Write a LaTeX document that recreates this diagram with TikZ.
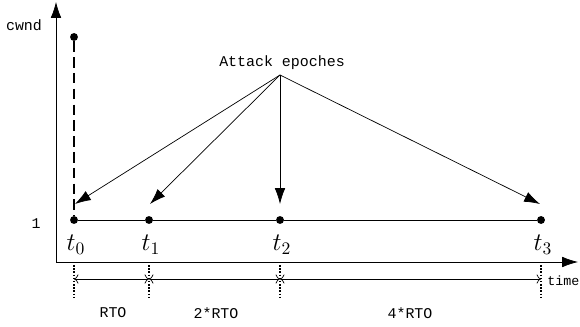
\documentclass[tikz,border=0pt]{standalone}
\usepackage{fontspec}
\setmonofont{Liberation Mono}
\usetikzlibrary{positioning, arrows.meta}

\tikzset{
  dot/.style={circle, fill, inner sep=0pt, minimum size=4.5pt},
  attack/.style={-{Latex[length=9pt,width=6pt]}, thin},
  lbl/.style={font=\ttfamily\fontsize{8.5}{10}\selectfont},
  span/.style={{To}-{To}, thin},
}

\begin{document}
\begin{tikzpicture}[x=0.02cm, y=-0.02cm]
\useasboundingbox (0,0) rectangle (580,327);

% axes
\coordinate (o) at (56,262);
\draw[-{Latex[length=9pt,width=6pt]}] (o) -- (56,2) coordinate (ytop);
\draw[-{Latex[length=9pt,width=6pt]}] (o) -- (578,262) coordinate (xend);
\node[lbl] (cwnd) at (24,25) {cwnd};
\node[lbl] (one) at (36,224) {1};
\node[lbl, font=\ttfamily\fontsize{7.6}{9}\selectfont, anchor=west, inner sep=0pt]
  (time) at (547,281) {time};

% cwnd over time
\node[dot] (top) at (74,37) {};
\node[dot] (p0) at (74,220) {};
\node[dot] (p1) at (149,220) {};
\node[dot] (p2) at (280,220) {};
\node[dot] (p3) at (541,220) {};
\draw[thick, dash pattern=on 6pt off 3pt] (top) -- (p0);
\draw[thin] (p0) -- (p1) -- (p2) -- (p3);
\node (t0) at (76,245) {\Large $t_0$};
\node (t1) at (151,245) {\Large $t_1$};
\node (t2) at (282,245) {\Large $t_2$};
\node (t3) at (543,245) {\Large $t_3$};

% attack epoches
\node[lbl] (atk) at (282,63) {Attack epoches};
\coordinate (src) at (280,75);
\coordinate (e0) at (75,204);
\coordinate (e1) at (150,204);
\coordinate (e2) at (280,204);
\coordinate (e3) at (540,204);
\foreach \e in {e0,e1,e2,e3}
  \draw[attack] (src) -- (\e);

% RTO spans
\foreach \x [count=\i from 0] in {74,149,280,541}{
  \coordinate (b\i) at (\x,262);
  \coordinate (c\i) at (\x,298);
  \draw[densely dotted, thick] (b\i) -- (c\i);
}
\draw[span] (74,279) -- (149,279);
\draw[span] (149,279) -- (280,279);
\draw[span] (280,279) -- (541,279);
\node[lbl] (r1) at (113,313) {RTO};
\node[lbl] (r2) at (216,313) {2*RTO};
\node[lbl] (r3) at (410,313) {4*RTO};
\end{tikzpicture}
\end{document}
